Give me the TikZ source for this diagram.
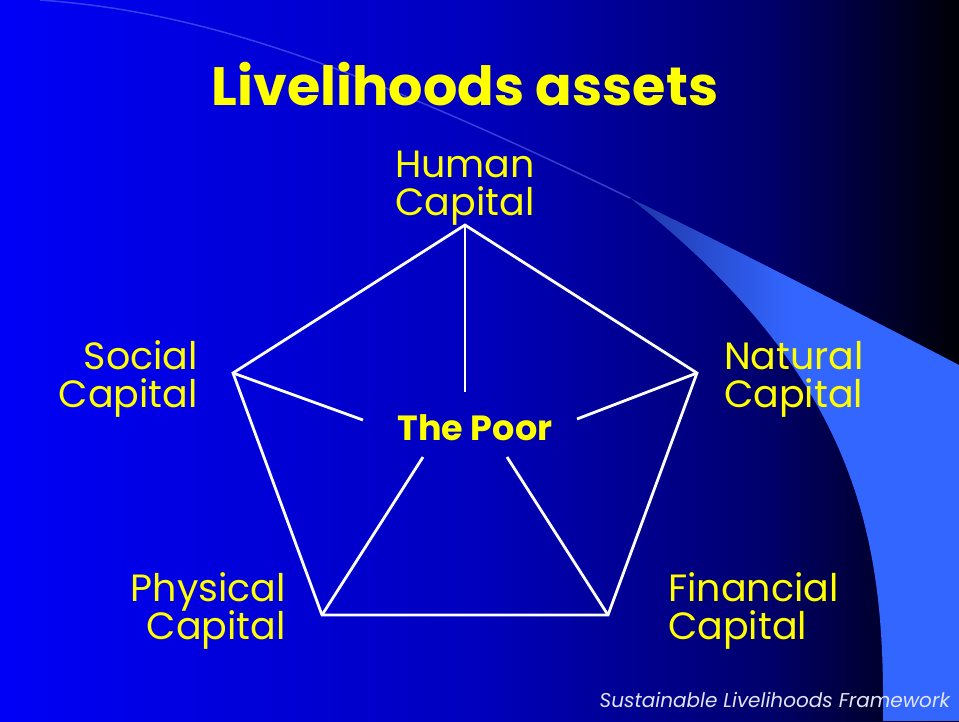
\documentclass[tikz,border=0pt]{standalone}
\usepackage{fontspec}
\setmainfont{Poppins}
\newcommand\mytightlines{\lineskiplimit=-100pt\relax}
\pgfdeclarehorizontalshading{bgshade}{100bp}{rgb(0bp)=(0,0,0.97); rgb(25bp)=(0,0,0.97); rgb(50bp)=(0,0,0.74); rgb(65bp)=(0,0,0.42); rgb(70bp)=(0,0,0.22); rgb(75bp)=(0,0,0.02); rgb(100bp)=(0,0,0.02)}
\definecolor{ylw}{RGB}{255,255,0}
\definecolor{swoosh}{RGB}{51,102,255}
\definecolor{swooshdim}{RGB}{30,50,160}
\definecolor{foot}{RGB}{228,228,248}
\definecolor{faint}{RGB}{120,140,255}
\begin{document}
\begin{tikzpicture}[x=1pt,y=-1pt,
  edge/.style={draw=white,line width=2.8pt,line join=miter},
  lbl/.style={text=ylw,inner sep=0pt,font={\fontsize{38}{38}\selectfont\mytightlines}},
  ttl/.style={inner sep=0pt,font={\fontsize{54}{54}\selectfont\bfseries}},
  poor/.style={inner sep=0pt,font={\fontsize{35}{35}\selectfont\bfseries}},
  footer/.style={text=foot,inner sep=0pt,font={\fontsize{20}{20}\selectfont\itshape}}
 ]
\useasboundingbox (0,0) rectangle (959,721);
\shade[shading=bgshade] (0,0) rectangle (959,721);
% swoosh
\begin{scope}
\clip (630,198) .. controls (723.8,243.75) and (831.75,298.75) .. (959,365) -- (959,721) -- (883,721) .. controls (885,540) and (860,380) .. (630,198) -- cycle;
\shade[left color=swooshdim,right color=swoosh] (620,150) rectangle (790,721);
\fill[swoosh] (790,150) rectangle (959,721);
\end{scope}
\draw[line width=1.5pt, color=faint, opacity=0.45] (40,0) .. controls (197.5,11.25) and (349.4,61.9) .. (630,198);
% title
\node[ttl,text=ylw,anchor=base] (title) at (465,105) {Livelihoods assets};
% pentagon
\coordinate (H) at (465,225);
\coordinate (S) at (233,373);
\coordinate (N) at (697,373);
\coordinate (P) at (322,615);
\coordinate (F) at (608,615);
\coordinate (hE) at (465,392);
\coordinate (sE) at (363,420);
\coordinate (nE) at (577,419);
\coordinate (pE) at (423,457);
\coordinate (fE) at (507,457);
\draw[edge] (H) -- (N) -- (F) -- (P) -- (S) -- cycle;
\draw[edge] (H) -- (hE);
\draw[edge] (S) -- (sE);
\draw[edge] (N) -- (nE);
\draw[edge] (P) -- (pE);
\draw[edge] (F) -- (fE);
% centre
\node[poor,text=ylw,anchor=base] (thepoor) at (475,440) {The Poor};
% labels
\node[lbl,align=center,anchor=south] (human) at (465,226) {Human\\Capital};
\node[lbl,align=right,anchor=south east] (social) at (198,418) {Social\\Capital};
\node[lbl,align=left,anchor=south west] (natural) at (724,418) {Natural\\Capital};
\node[lbl,align=right,anchor=south east] (physical) at (286,650) {Physical\\Capital};
\node[lbl,align=left,anchor=south west] (financial) at (668,650) {Financial\\Capital};
% footer
\node[footer,anchor=base east] (foot) at (950,707) {Sustainable Livelihoods Framework};
\end{tikzpicture}
\end{document}
